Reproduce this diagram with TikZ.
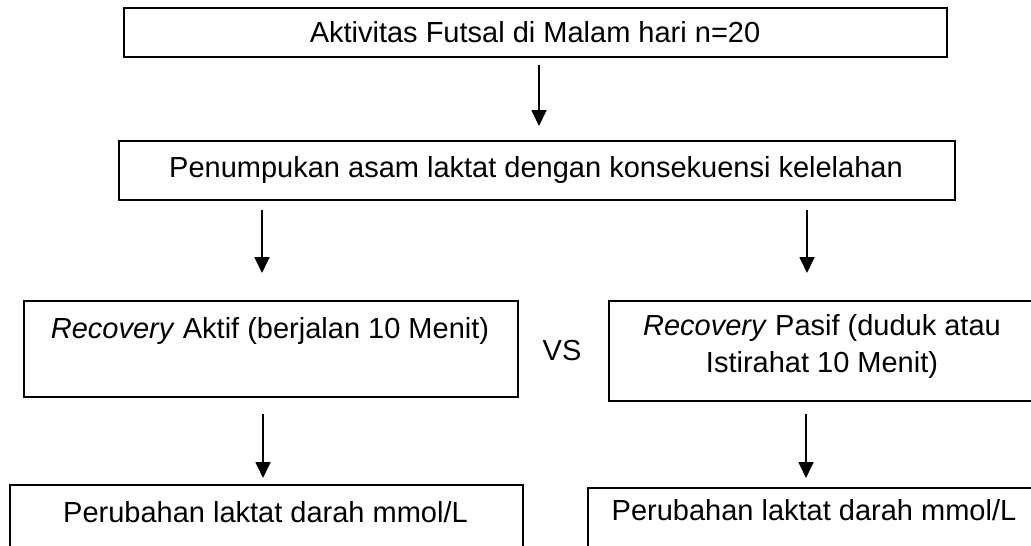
\documentclass[tikz,border=0pt]{standalone}
\usepackage{fontspec}
\setmainfont{Liberation Sans}
\usetikzlibrary{arrows.meta,calc}
\tikzset{
  boxn/.style={draw=black, line width=1.8pt, rectangle, inner sep=0pt, anchor=north west},
  txt/.style={inner sep=0pt, anchor=base, font=\fontsize{29}{37}\selectfont},
  arr/.style={line width=1.8pt, -{Triangle[width=15pt,length=16pt]}}
}
\begin{document}
\begin{tikzpicture}[x=1pt,y=-1pt]
\useasboundingbox (0,0) rectangle (1031,546);
\clip (0,0) rectangle (1031,546);
\fill[white] (0,0) rectangle (1031,546);
% boxes
\node[boxn, minimum width=823pt, minimum height=49pt] (B1) at (123,7) {};
\node[boxn, minimum width=836pt, minimum height=59pt] (B2) at (118,140) {};
\node[boxn, minimum width=494pt, minimum height=96pt] (B3) at (23,300) {};
\node[boxn, minimum width=428pt, minimum height=100pt] (B4) at (608,300) {};
\node[boxn, minimum width=513pt, minimum height=90pt] (B5) at (9,484) {};
\node[boxn, minimum width=454pt, minimum height=90pt] (B6) at (587,487) {};
% texts
\node[txt] (T1) at (535,42) {Aktivitas Futsal di Malam hari n=20};
\node[txt] (T2) at (536,177) {Penumpukan asam laktat dengan konsekuensi kelelahan};
\node[txt] (T3) at (270,338) {\textit{Recovery} Aktif (berjalan 10 Menit)};
\node[txt] (T4a) at (822,335) {\textit{Recovery} Pasif (duduk atau};
\node[txt] (T4b) at (822,372) {Istirahat 10 Menit)};
\node[txt] (VS) at (562,360) {VS};
\node[txt] (T5) at (265.5,522) {Perubahan laktat darah mmol/L};
\node[txt] (T6) at (814,520) {Perubahan laktat darah mmol/L};
% arrows
\draw[arr] ($(B1.south west)+(416,7)$) -- ($(B2.north west)+(421,-14)$);
\draw[arr] ($(B2.south west)+(144,9)$) -- ($(B3.north west)+(239,-27)$);
\draw[arr] ($(B2.south west)+(689,9)$) -- ($(B4.north west)+(199,-27)$);
\draw[arr] ($(B3.south west)+(240,16)$) -- ($(B5.north west)+(254,-6)$);
\draw[arr] ($(B4.south west)+(198,12)$) -- ($(B6.north west)+(219,-9)$);
\end{tikzpicture}
\end{document}
